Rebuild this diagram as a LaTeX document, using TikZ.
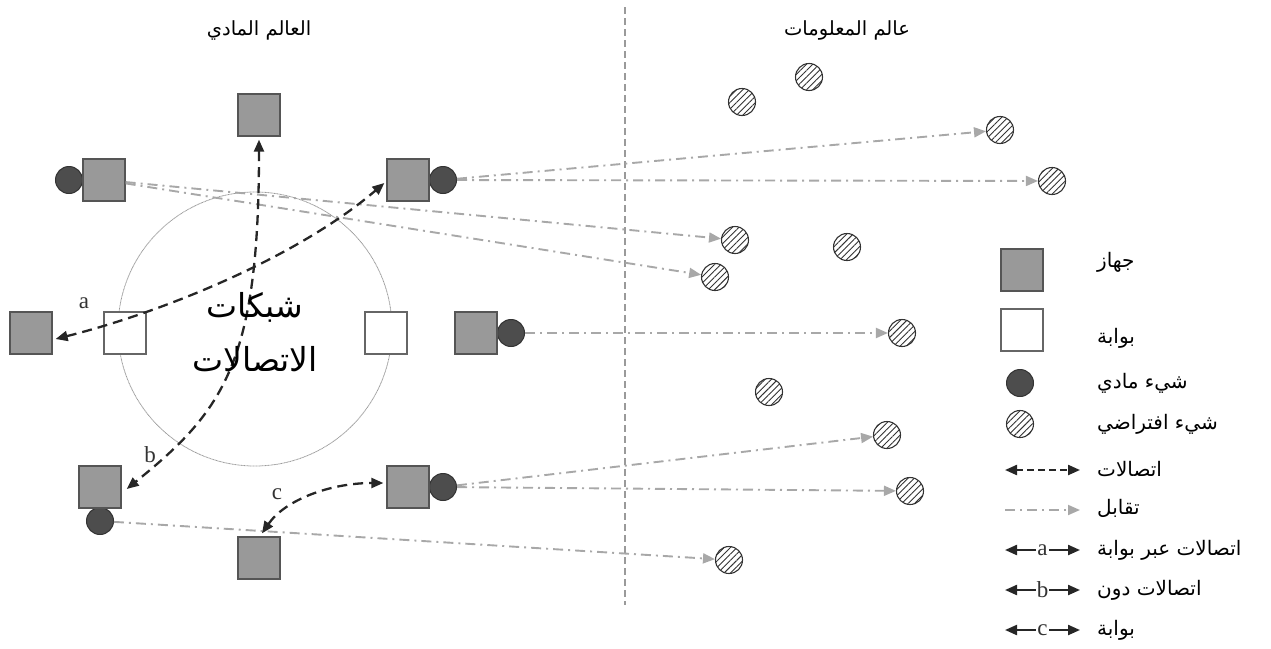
\documentclass[tikz,border=0pt]{standalone}
\usepackage{fontspec}
\usetikzlibrary{arrows.meta,patterns.meta,calc}
\newfontfamily\arabicfont[Script=Arabic]{DejaVu Sans}
\newfontfamily\latinserif{Liberation Serif}
\TeXXeTstate=1
\definecolor{devfill}{HTML}{999999}
\definecolor{devdraw}{HTML}{555555}
\definecolor{gatedraw}{HTML}{666666}
\definecolor{physfill}{HTML}{4D4D4D}
\definecolor{physdraw}{HTML}{333333}
\definecolor{virtdraw}{HTML}{333333}
\definecolor{commcol}{HTML}{262626}
\definecolor{mapcol}{HTML}{A8A8A8}
\definecolor{netcol}{HTML}{9A9A9A}
\newcommand\artxt[1]{{\arabicfont\beginR #1\endR}}
\tikzset{
  dev/.style={rectangle, draw=devdraw, fill=devfill, line width=1.3pt, minimum size=42pt, inner sep=0pt},
  gate/.style={rectangle, draw=gatedraw, fill=white, line width=1.3pt, minimum size=42pt, inner sep=0pt},
  phys/.style={circle, draw=physdraw, fill=physfill, line width=1pt, minimum size=27pt, inner sep=0pt},
  virt/.style={circle, draw=virtdraw, line width=1.1pt, minimum size=27pt, inner sep=0pt,
     pattern={Lines[angle=45,distance=4.5pt,line width=0.9pt]}, pattern color=virtdraw},
  comm/.style={draw=commcol, line width=2.3pt, dash pattern=on 10pt off 6pt,
     {Triangle[length=12pt,width=10pt]}-{Triangle[length=12pt,width=10pt]}},
  commleg/.style={draw=commcol, line width=2.2pt, dash pattern=on 7pt off 4pt,
     {Triangle[length=12pt,width=10pt]}-{Triangle[length=12pt,width=10pt]}},
  solidleg/.style={draw=commcol, line width=2.2pt,
     {Triangle[length=12pt,width=10pt]}-{Triangle[length=12pt,width=10pt]}},
  mapline/.style={draw=mapcol, line width=1.9pt, dash pattern=on 10pt off 5pt on 2pt off 5pt,
     -{Triangle[length=12pt,width=10pt]}},
  divider/.style={draw=netcol, line width=1.2pt, dash pattern=on 7pt off 4pt},
  netcircle/.style={draw=netcol, line width=0.8pt, dash pattern=on 1pt off 0.5pt},
  lbl/.style={font=\latinserif\fontsize{23}{23}\selectfont, inner sep=1pt, text=black!80},
  title/.style={font=\fontsize{19.5}{22}\selectfont, inner sep=0pt, anchor=base},
  bigtxt/.style={font=\fontsize{33}{36}\selectfont, inner sep=0pt, anchor=base},
  legtxt/.style={font=\fontsize{20}{22}\selectfont, inner sep=0pt, anchor=west},
}
\begin{document}
\begin{tikzpicture}[x=1pt,y=-1pt]
\useasboundingbox (0,0) rectangle (1271,648);

% divider
\coordinate (divtop) at (625,7);
\coordinate (divbot) at (625,605);
\draw[divider] (divtop) -- (divbot);

% titles
\node[title] (tphys) at (259,35) {\artxt{العالم المادي}};
\node[title] (tinfo) at (847,35) {\artxt{عالم المعلومات}};

% network circle
\node[circle, netcircle, minimum size=274pt, inner sep=0pt] (net) at (255,329) {};

% gateways
\node[gate] (gl) at (125,333) {};
\node[gate] (gr) at (386,333) {};

% physical objects (drawn before devices)
\node[phys] (ulp) at (69,180) {};
\node[phys] (urp) at (443,180) {};
\node[phys] (mrp) at (511,333) {};
\node[phys] (llp) at (100,521) {};
\node[phys] (lmp) at (443,487) {};

% devices
\node[dev] (top) at (259,115) {};
\node[dev] (ul) at (104,180) {};
\node[dev] (ur) at (408,180) {};
\node[dev] (fl) at (31,333) {};
\node[dev] (mr) at (476,333) {};
\node[dev] (ll) at (100,487) {};
\node[dev] (lm) at (408,487) {};
\node[dev] (bot) at (259,558) {};

% virtual objects
\node[virt] (v1) at (742,102) {};
\node[virt] (v2) at (809,77) {};
\node[virt] (v3) at (1000,130) {};
\node[virt] (v4) at (1052,181) {};
\node[virt] (v5) at (735,240) {};
\node[virt] (v6) at (847,247) {};
\node[virt] (v7) at (715,277) {};
\node[virt] (v8) at (902,333) {};
\node[virt] (v9) at (769,392) {};
\node[virt] (v10) at (887,435) {};
\node[virt] (v11) at (910,491) {};
\node[virt] (v12) at (729,560) {};

% mapping lines
\draw[mapline] (ul) -- (v5);
\draw[mapline] (ul) -- (v7);
\draw[mapline] (urp) -- (v3);
\draw[mapline] (urp) -- (v4);
\draw[mapline] (mrp) -- (v8);
\draw[mapline] (lmp) -- (v10);
\draw[mapline] (lmp) -- (v11);
\draw[mapline] (llp) -- (v12);

% communication arrows
\draw[comm] ($(fl.east)+(3,6)$) .. controls (170,310) and (300,255) .. ($(ur.west)+(-2,3)$);
\draw[comm] ($(top.south)+(0,3)$) .. controls (259,360) and (225,410) .. ($(ll.east)+(5,2)$);
\draw[comm] ($(bot.north)+(3,-3)$) .. controls (285,500) and (330,483) .. ($(lm.west)+(-3,-4)$);

\node[lbl] (la) at (84,303) {a};
\node[lbl] (lb) at (150,455) {b};
\node[lbl] (lc) at (277,494) {c};

% network text
\node[bigtxt] (net1) at (255,317) {\artxt{شبكات}};
\node[bigtxt] (net2) at (255,371) {\artxt{الاتصالات}};

% legend
\node[dev] (kdev) at (1022,270) {};
\node[gate] (kgate) at (1022,330) {};
\node[phys] (kphys) at (1020,383) {};
\node[virt] (kvirt) at (1020,424) {};
\coordinate (kc1) at (1005,470); \coordinate (kc2) at (1080,470);
\draw[commleg] (kc1) -- (kc2);
\coordinate (km1) at (1005,510); \coordinate (km2) at (1080,510);
\draw[mapline] (km1) -- (km2);
\coordinate (ka1) at (1005,550); \coordinate (ka2) at (1080,550);
\draw[solidleg] (ka1) -- (ka2) node[midway, lbl, fill=white] (kal) {a};
\coordinate (kb1) at (1005,590); \coordinate (kb2) at (1080,590);
\draw[solidleg] (kb1) -- (kb2) node[midway, lbl, fill=white] (kbl) {b};
\coordinate (kcc1) at (1005,630); \coordinate (kcc2) at (1080,630);
\draw[solidleg] (kcc1) -- (kcc2) node[midway, lbl, fill=white] (kcl) {c};

\node[legtxt] (t1) at (1097,262) {\artxt{جهاز}};
\node[legtxt] (t2) at (1097,338) {\artxt{بوابة}};
\node[legtxt] (t3) at (1097,383) {\artxt{شيء مادي}};
\node[legtxt] (t4) at (1097,424) {\artxt{شيء افتراضي}};
\node[legtxt] (t5) at (1097,469) {\artxt{اتصالات}};
\node[legtxt] (t6) at (1097,508) {\artxt{تقابل}};
\node[legtxt] (t7) at (1097,550) {\artxt{اتصالات عبر بوابة}};
\node[legtxt] (t8) at (1097,590) {\artxt{اتصالات دون}};
\node[legtxt] (t9) at (1097,630) {\artxt{بوابة}};
\end{tikzpicture}
\end{document}
